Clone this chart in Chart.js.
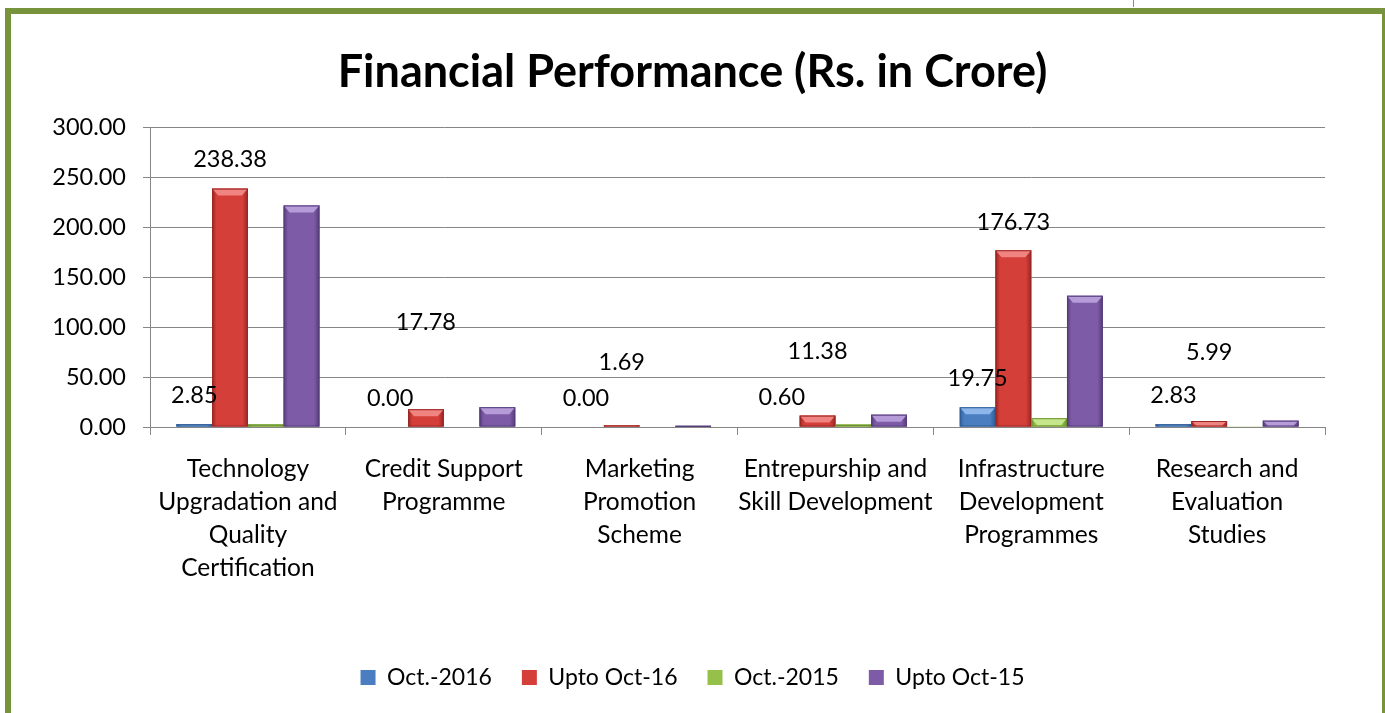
<!DOCTYPE html>
<html>
<head>
<meta charset="utf-8">
<script src="https://cdn.jsdelivr.net/npm/chart.js@4.4.0/dist/chart.umd.min.js"></script>
<style>
  html, body { margin: 0; padding: 0; background: #fff; overflow: hidden; }
  #wrap { position: relative; width: 1385px; height: 713px; }
  #frame { position: absolute; left: 5px; top: 8px; width: 1380px; height: 720px; box-sizing: border-box;
           border: solid #77933C; border-width: 6px 3px 0 6px; pointer-events: none; }
  #mark { position: absolute; left: 1133px; top: 0; width: 1px; height: 7px; background: #8a8a8a; }
</style>
</head>
<body>
<div id="wrap">
  <canvas id="chart" width="1385" height="713"></canvas>
  <div id="frame"></div>
  <div id="mark"></div>
</div>
<script>
// chart data
const categories = [
  ['Technology', 'Upgradation and', 'Quality', 'Certification'],
  ['Credit Support', 'Programme'],
  ['Marketing', 'Promotion', 'Scheme'],
  ['Entrepurship and', 'Skill Development'],
  ['Infrastructure', 'Development', 'Programmes'],
  ['Research and', 'Evaluation', 'Studies']
];
const oct2016   = [2.85, 0.00, 0.00, 0.60, 19.75, 2.83];
const uptoOct16 = [238.38, 17.78, 1.69, 11.38, 176.73, 5.99];
const oct2015   = [2.6, 0, 0, 2.4, 8.8, 0.7];
const uptoOct15 = [221.5, 19.8, 1.0, 12.3, 131.2, 6.3];
const seriesNames = ['Oct.-2016', 'Upto Oct-16', 'Oct.-2015', 'Upto Oct-15'];
const yTicks = { min: 0, max: 300, step: 50 };

const FONT = 'Lato, "Open Sans", sans-serif';
const colors = ['#4A7EC0', '#D43F3A', '#95C14A', '#7D5BA6'];
const edgeColors = ['#2F5C96', '#9A2623', '#6E9330', '#553C7A'];
const topColors = ['#8DB6EA', '#F08480', '#C6E68C', '#B59BD8'];

// label lift above bar top (px) for the two labelled series, as in the original
const labelLift = [
  [29, 29, 29, 29, 29, 29],
  [29, 87, 63, 64, 28, 69]
];

// draws shaded sides and a bevelled top on each bar
const bevelPlugin = {
  id: 'bevel',
  afterDatasetsDraw(chart) {
    const ctx = chart.ctx;
    chart.data.datasets.forEach((ds, di) => {
      const meta = chart.getDatasetMeta(di);
      meta.data.forEach(el => {
        const p = el.getProps(['x', 'y', 'base', 'width'], true);
        const left = p.x - p.width / 2, right = p.x + p.width / 2;
        const h = p.base - p.y;
        if (h <= 0.3) return;
        ctx.save();
        const g = ctx.createLinearGradient(left, 0, right, 0);
        g.addColorStop(0, edgeColors[di]);
        g.addColorStop(0.12, colors[di]);
        g.addColorStop(0.85, colors[di]);
        g.addColorStop(1, edgeColors[di]);
        ctx.fillStyle = g;
        ctx.fillRect(left, p.y, p.width, h);
        const bh = Math.min(7, h);
        const inset = Math.min(6, p.width / 4);
        ctx.beginPath();
        ctx.moveTo(left, p.y);
        ctx.lineTo(right, p.y);
        ctx.lineTo(right - inset, p.y + bh);
        ctx.lineTo(left + inset, p.y + bh);
        ctx.closePath();
        ctx.fillStyle = topColors[di];
        ctx.fill();
        ctx.strokeStyle = edgeColors[di];
        ctx.lineWidth = 1;
        ctx.strokeRect(left + 0.5, p.y + 0.5, p.width - 1, h - 1);
        ctx.restore();
      });
    });
  }
};

// value labels for the first two series
const labelPlugin = {
  id: 'valueLabels',
  afterDatasetsDraw(chart) {
    const ctx = chart.ctx;
    ctx.save();
    ctx.font = '23.5px ' + FONT;
    ctx.fillStyle = '#000';
    ctx.textAlign = 'center';
    ctx.textBaseline = 'middle';
    [0, 1].forEach(di => {
      const meta = chart.getDatasetMeta(di);
      meta.data.forEach((el, i) => {
        const v = chart.data.datasets[di].data[i];
        ctx.fillText(v.toFixed(2), el.x, el.y - labelLift[di][i]);
      });
    });
    ctx.restore();
  }
};

const seriesData = [oct2016, uptoOct16, oct2015, uptoOct15];

new Chart(document.getElementById('chart'), {
  type: 'bar',
  data: {
    labels: categories,
    datasets: seriesData.map((d, i) => ({
      label: seriesNames[i],
      data: d,
      backgroundColor: colors[i],
      borderWidth: 0,
      categoryPercentage: 0.73,
      barPercentage: 1.0
    }))
  },
  options: {
    responsive: false,
    animation: false,
    devicePixelRatio: 1,
    layout: { padding: { left: 0, right: 0, top: 0, bottom: 14 } },
    plugins: {
      tooltip: { enabled: false },
      title: {
        display: true,
        text: 'Financial Performance (Rs. in Crore)',
        color: '#000',
        font: { family: FONT, size: 45, weight: 'bold', lineHeight: 1.2 },
        padding: { top: 45, bottom: 28 }
      },
      legend: {
        position: 'bottom',
        labels: {
          color: '#000',
          font: { family: FONT, size: 23 },
          boxWidth: 15,
          boxHeight: 15,
          padding: 30
        }
      }
    },
    scales: {
      x: {
        grid: { offset: true, drawOnChartArea: false, drawTicks: true, tickLength: 8, color: '#868686' },
        border: { color: '#868686' },
        ticks: { color: '#000', font: { family: FONT, size: 24.5, lineHeight: 1.35 }, padding: 17.5,
                 maxRotation: 0, autoSkip: false },
        afterFit(scale) { scale.height = 209; }
      },
      y: {
        min: yTicks.min,
        max: yTicks.max,
        grid: { color: '#868686', tickLength: 7 },
        border: { color: '#868686' },
        ticks: { stepSize: yTicks.step, color: '#000', font: { family: FONT, size: 23.5 }, padding: 17,
                 callback: v => v.toFixed(2) },
        afterFit(scale) { scale.width = 150; }
      },
      // empty right-hand axis that only reserves the margin right of the plot
      yRight: {
        position: 'right',
        grid: { display: false },
        border: { display: false },
        ticks: { display: false },
        afterFit(scale) { scale.width = 60; }
      }
    }
  },
  plugins: [bevelPlugin, labelPlugin]
});
</script>
</body>
</html>
